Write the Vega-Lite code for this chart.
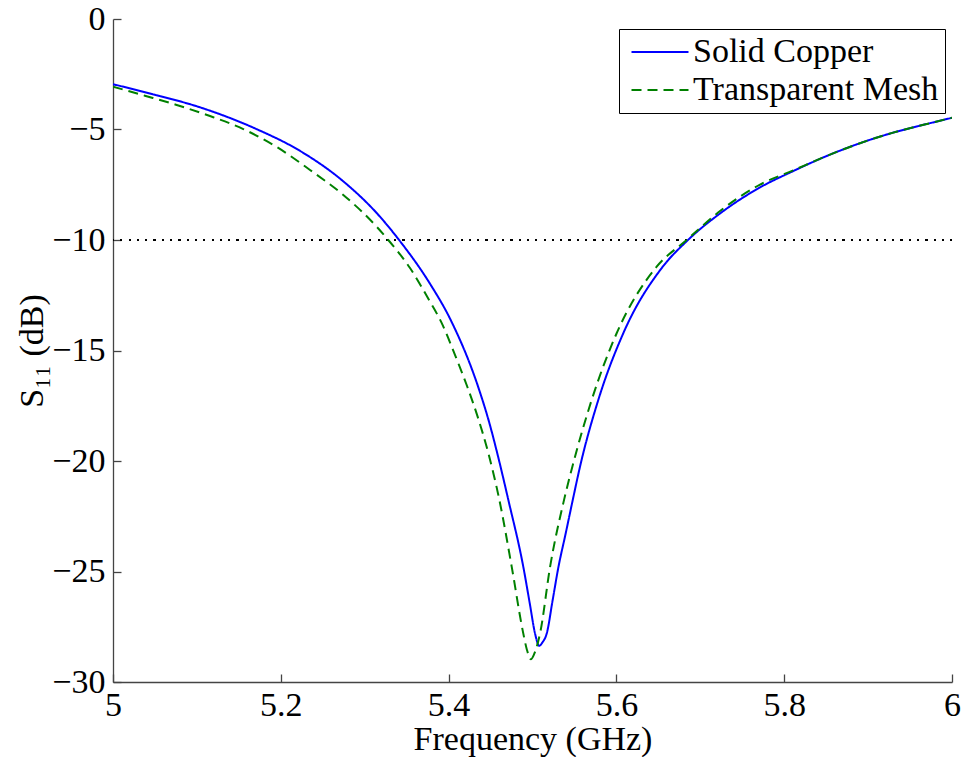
{
  "$schema": "https://vega.github.io/schema/vega-lite/v6.json",
  "autosize": {"type": "none"},
  "width": 839,
  "height": 663,
  "padding": {"left": 113, "top": 19, "right": 12, "bottom": 75},
  "background": "white",
  "config": {
    "view": {"stroke": null},
    "font": "Liberation Serif",
    "axis": {
      "labelFont": "Liberation Serif",
      "titleFont": "Liberation Serif",
      "labelFontSize": 34,
      "titleFontSize": 34,
      "titleFontWeight": "normal",
      "labelColor": "#000",
      "titleColor": "#000",
      "domainColor": "#444",
      "tickColor": "#444",
      "domainWidth": 1.3,
      "tickWidth": 1.3,
      "grid": false,
      "tickSize": -8
    }
  },
  "data": {
    "values": [
      {"f": 5.000, "s": -2.95, "series": "Solid Copper"},
      {"f": 5.044, "s": -3.37, "series": "Solid Copper"},
      {"f": 5.104, "s": -4.00, "series": "Solid Copper"},
      {"f": 5.171, "s": -4.98, "series": "Solid Copper"},
      {"f": 5.223, "s": -5.97, "series": "Solid Copper"},
      {"f": 5.274, "s": -7.33, "series": "Solid Copper"},
      {"f": 5.315, "s": -8.81, "series": "Solid Copper"},
      {"f": 5.341, "s": -10.0, "series": "Solid Copper"},
      {"f": 5.378, "s": -11.99, "series": "Solid Copper"},
      {"f": 5.4025, "s": -13.62, "series": "Solid Copper"},
      {"f": 5.4366, "s": -16.8, "series": "Solid Copper"},
      {"f": 5.448, "s": -18.2, "series": "Solid Copper"},
      {"f": 5.458, "s": -19.65, "series": "Solid Copper"},
      {"f": 5.4712, "s": -21.76, "series": "Solid Copper"},
      {"f": 5.489, "s": -24.78, "series": "Solid Copper"},
      {"f": 5.497, "s": -26.5, "series": "Solid Copper"},
      {"f": 5.503, "s": -27.8, "series": "Solid Copper"},
      {"f": 5.508, "s": -28.36, "series": "Solid Copper"},
      {"f": 5.512, "s": -28.2, "series": "Solid Copper"},
      {"f": 5.517, "s": -27.8, "series": "Solid Copper"},
      {"f": 5.524, "s": -26.3, "series": "Solid Copper"},
      {"f": 5.531, "s": -24.78, "series": "Solid Copper"},
      {"f": 5.5396, "s": -23.27, "series": "Solid Copper"},
      {"f": 5.548, "s": -21.76, "series": "Solid Copper"},
      {"f": 5.5566, "s": -20.26, "series": "Solid Copper"},
      {"f": 5.5784, "s": -17.24, "series": "Solid Copper"},
      {"f": 5.6082, "s": -14.22, "series": "Solid Copper"},
      {"f": 5.654, "s": -11.27, "series": "Solid Copper"},
      {"f": 5.6853, "s": -10.0, "series": "Solid Copper"},
      {"f": 5.7235, "s": -8.80, "series": "Solid Copper"},
      {"f": 5.7712, "s": -7.62, "series": "Solid Copper"},
      {"f": 5.8108, "s": -6.88, "series": "Solid Copper"},
      {"f": 5.8506, "s": -6.20, "series": "Solid Copper"},
      {"f": 5.8903, "s": -5.62, "series": "Solid Copper"},
      {"f": 5.930, "s": -5.14, "series": "Solid Copper"},
      {"f": 5.970, "s": -4.75, "series": "Solid Copper"},
      {"f": 6.000, "s": -4.47, "series": "Solid Copper"},
      {"f": 5.000, "s": -3.06, "series": "Transparent Mesh"},
      {"f": 5.038, "s": -3.47, "series": "Transparent Mesh"},
      {"f": 5.0759, "s": -3.89, "series": "Transparent Mesh"},
      {"f": 5.1156, "s": -4.39, "series": "Transparent Mesh"},
      {"f": 5.1553, "s": -4.98, "series": "Transparent Mesh"},
      {"f": 5.1951, "s": -5.79, "series": "Transparent Mesh"},
      {"f": 5.2348, "s": -6.83, "series": "Transparent Mesh"},
      {"f": 5.2745, "s": -7.96, "series": "Transparent Mesh"},
      {"f": 5.3143, "s": -9.40, "series": "Transparent Mesh"},
      {"f": 5.3281, "s": -10.0, "series": "Transparent Mesh"},
      {"f": 5.354, "s": -11.27, "series": "Transparent Mesh"},
      {"f": 5.3778, "s": -12.79, "series": "Transparent Mesh"},
      {"f": 5.3917, "s": -13.75, "series": "Transparent Mesh"},
      {"f": 5.4076, "s": -15.2, "series": "Transparent Mesh"},
      {"f": 5.4223, "s": -16.64, "series": "Transparent Mesh"},
      {"f": 5.435, "s": -18.04, "series": "Transparent Mesh"},
      {"f": 5.4474, "s": -19.65, "series": "Transparent Mesh"},
      {"f": 5.4605, "s": -21.76, "series": "Transparent Mesh"},
      {"f": 5.4752, "s": -24.78, "series": "Transparent Mesh"},
      {"f": 5.489, "s": -27.8, "series": "Transparent Mesh"},
      {"f": 5.4934, "s": -28.55, "series": "Transparent Mesh"},
      {"f": 5.4982, "s": -28.97, "series": "Transparent Mesh"},
      {"f": 5.503, "s": -28.64, "series": "Transparent Mesh"},
      {"f": 5.509, "s": -27.8, "series": "Transparent Mesh"},
      {"f": 5.521, "s": -24.78, "series": "Transparent Mesh"},
      {"f": 5.5376, "s": -21.76, "series": "Transparent Mesh"},
      {"f": 5.5475, "s": -20.26, "series": "Transparent Mesh"},
      {"f": 5.5705, "s": -17.24, "series": "Transparent Mesh"},
      {"f": 5.6003, "s": -14.22, "series": "Transparent Mesh"},
      {"f": 5.648, "s": -11.21, "series": "Transparent Mesh"},
      {"f": 5.6837, "s": -10.0, "series": "Transparent Mesh"},
      {"f": 5.7235, "s": -8.69, "series": "Transparent Mesh"},
      {"f": 5.7712, "s": -7.49, "series": "Transparent Mesh"},
      {"f": 5.8108, "s": -6.85, "series": "Transparent Mesh"},
      {"f": 5.8506, "s": -6.20, "series": "Transparent Mesh"},
      {"f": 5.8903, "s": -5.62, "series": "Transparent Mesh"},
      {"f": 5.930, "s": -5.14, "series": "Transparent Mesh"},
      {"f": 5.970, "s": -4.75, "series": "Transparent Mesh"},
      {"f": 6.000, "s": -4.47, "series": "Transparent Mesh"}
    ]
  },
  "layer": [
    {
      "mark": {"type": "rule", "color": "#000", "strokeWidth": 1.2, "strokeDash": [1.3, 7]},
      "encoding": {"y": {"datum": -10, "type": "quantitative"}}
    },
    {
      "mark": {"type": "line", "strokeWidth": 2, "interpolate": "monotone", "clip": true},
      "encoding": {
        "x": {
          "field": "f", "type": "quantitative",
          "scale": {"domain": [5, 6], "nice": false, "zero": false},
          "axis": {"values": [5, 5.2, 5.4, 5.6, 5.8, 6], "format": "~g", "title": "Frequency (GHz)", "labelPadding": 14, "titlePadding": 0, "labelFlush": false}
        },
        "y": {
          "field": "s", "type": "quantitative",
          "scale": {"domain": [-30, 0], "nice": false, "zero": false},
          "axis": {"values": [-30, -25, -20, -15, -10, -5, 0], "title": "S₁₁ (dB)", "labelPadding": 16, "titlePadding": 2}
        },
        "color": {
          "field": "series", "type": "nominal",
          "scale": {"domain": ["Solid Copper", "Transparent Mesh"], "range": ["#0000ff", "#008000"]},
          "legend": {
            "title": null,
            "orient": "none",
            "legendX": 506,
            "legendY": 10,
            "fillColor": "white",
            "strokeColor": "#000",
            "padding": 6,
            "labelFont": "Liberation Serif",
            "labelFontSize": 34,
            "labelColor": "#000",
            "symbolType": "M-3,0H3",
            "symbolSize": 361,
            "symbolOffset": 18,
            "symbolStrokeWidth": 2,
            "labelOffset": 16,
            "rowPadding": 4,
            "labelLimit": 400
          }
        },
        "strokeDash": {
          "field": "series", "type": "nominal",
          "scale": {"domain": ["Solid Copper", "Transparent Mesh"], "range": [[1, 0], [10, 6]]},
          "legend": null
        }
      }
    }
  ]
}
